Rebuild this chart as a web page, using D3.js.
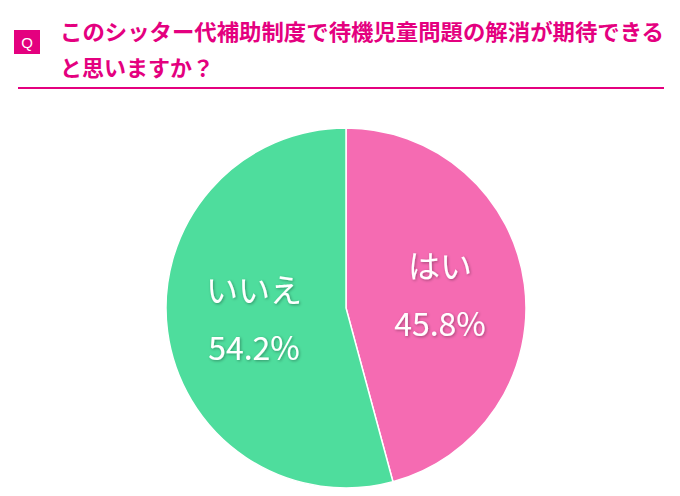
<!DOCTYPE html><html><head><meta charset="utf-8"><script src="https://d3js.org/d3.v7.min.js"></script>
<style>body{margin:0;background:#fff}</style></head><body><svg id="c" width="680" height="496"></svg>
<script>
const categories=["はい","いいえ"];
const values=[45.8,54.2];
const colors=["#f56bb2","#4edd9d"];
const svg=d3.select("#c");
const font="'Noto Sans CJK JP',sans-serif";
svg.append("rect").attr("x",14).attr("y",30).attr("width",26).attr("height",24).attr("fill","#e4007f");
svg.append("text").attr("x",27).attr("y",48).attr("text-anchor","middle").attr("fill","#fff").attr("font-family","Arial,sans-serif").attr("font-size",15).text("Q");
const t=svg.append("text").attr("fill","#e4007f").attr("font-family",font).attr("font-weight","bold").attr("font-size",22);
t.append("tspan").attr("x",60).attr("y",40).attr("textLength",604).attr("lengthAdjust","spacingAndGlyphs").text("このシッター代補助制度で待機児童問題の解消が期待できる");
t.append("tspan").attr("x",60).attr("y",76).text("と思いますか？");
svg.append("line").attr("x1",18).attr("x2",664).attr("y1",88).attr("y2",88).attr("stroke","#e4007f").attr("stroke-width",2);
const cx=346,cy=308,r=180;
const pie=d3.pie().sort(null)(values);
const arc=d3.arc().innerRadius(0).outerRadius(r);
const g=svg.append("g").attr("transform",`translate(${cx},${cy})`);
g.selectAll("path").data(pie).join("path").attr("d",arc).attr("fill",(d,i)=>colors[i]).attr("stroke","#fff").attr("stroke-width",1.5);
const defs=svg.append("defs");
const f=defs.append("filter").attr("id","sh");
f.append("feDropShadow").attr("dx",1).attr("dy",1).attr("stdDeviation",1.5).attr("flood-color","#000").attr("flood-opacity",0.35);
const pos=[[94,-30],[-92,-6]];
pie.forEach((d,i)=>{
  const lg=g.append("g").attr("filter","url(#sh)").attr("fill","#fff").attr("font-family",font).attr("font-size",32).attr("text-anchor","middle");
  lg.append("text").attr("x",pos[i][0]).attr("y",pos[i][1]).text(categories[i]);
  lg.append("text").attr("x",pos[i][0]).attr("y",pos[i][1]+58).text(values[i].toFixed(1)+"%");
});
</script></body></html>
